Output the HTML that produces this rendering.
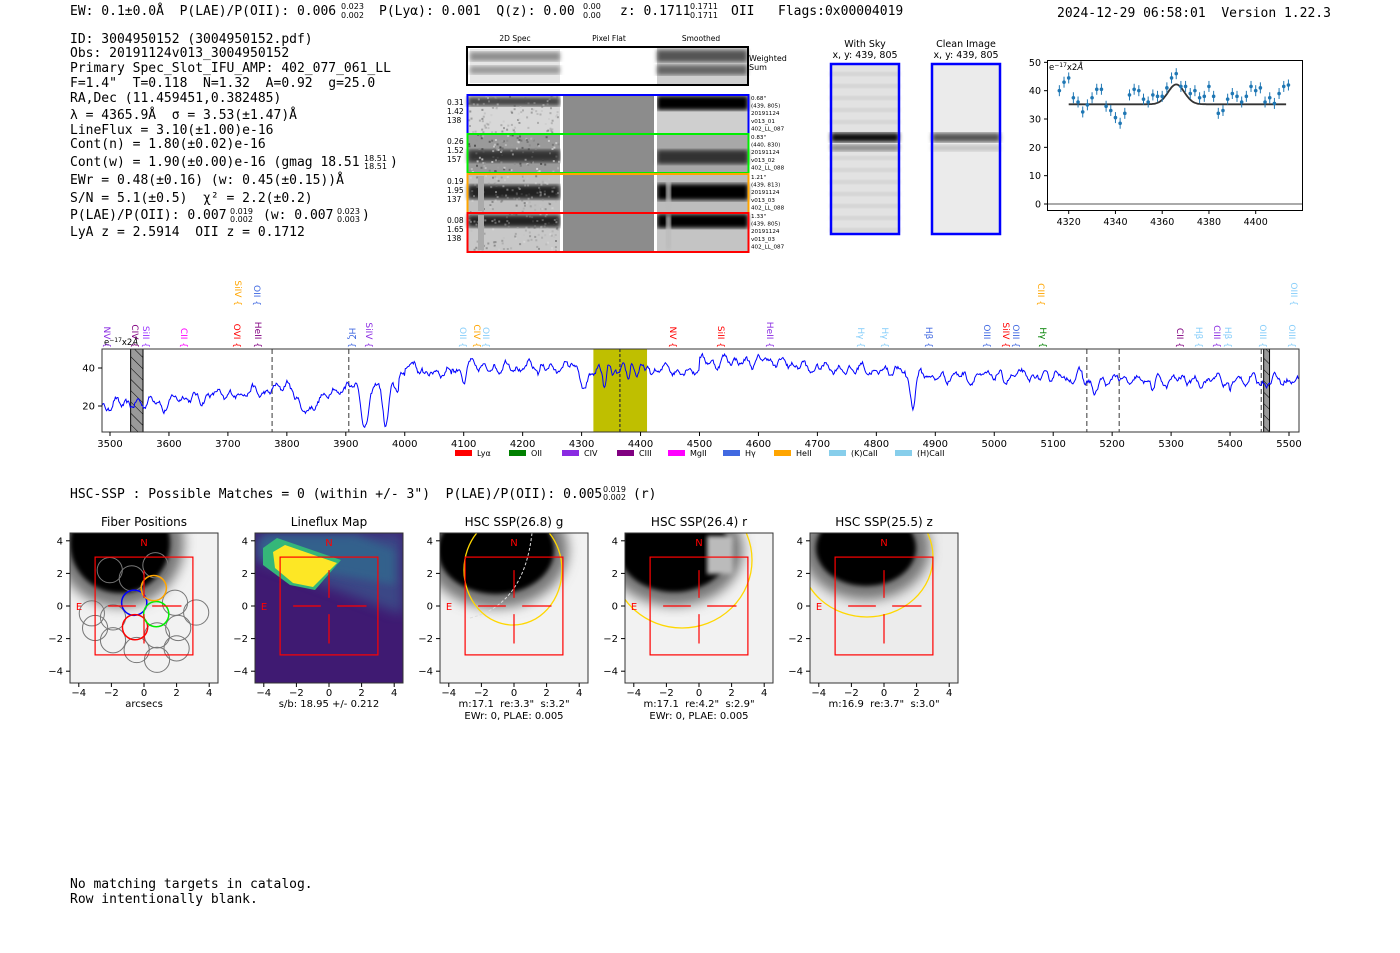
<!DOCTYPE html>
<html><head><meta charset="utf-8">
<style>
html,body{margin:0;padding:0;background:#fff;}
svg{display:block;}
text{white-space:pre;}
.m{font-family:"DejaVu Sans Mono","Liberation Mono",monospace;font-size:13px;fill:#000;}
.s{font-family:"DejaVu Sans","Liberation Sans",sans-serif;fill:#000;}
</style></head>
<body>
<svg id="root" width="1400" height="953" viewBox="0 0 1400 953" xmlns="http://www.w3.org/2000/svg" xml:space="preserve">
<defs>
<filter id="bl2"><feGaussianBlur stdDeviation="2"/></filter>
<filter id="bl4"><feGaussianBlur stdDeviation="4"/></filter>
<filter id="bl6"><feGaussianBlur stdDeviation="6"/></filter>
<filter id="noise" x="0" y="0" width="100%" height="100%"><feTurbulence type="fractalNoise" baseFrequency="0.9" numOctaves="1" seed="3"/><feColorMatrix type="saturate" values="0"/><feComponentTransfer><feFuncA type="linear" slope="0" intercept="0.35"/></feComponentTransfer></filter>
<pattern id="hatch" width="8" height="8" patternUnits="userSpaceOnUse" patternTransform="rotate(-45)"><rect width="8" height="8" fill="#9a9a9a"/><line x1="0" y1="0" x2="0" y2="8" stroke="#000" stroke-width="1"/></pattern>
<clipPath id="c0"><rect x="70" y="533" width="148" height="150"/></clipPath>
<clipPath id="c1"><rect x="255" y="533" width="148" height="150"/></clipPath>
<clipPath id="c2"><rect x="440" y="533" width="148" height="150"/></clipPath>
<clipPath id="c3"><rect x="625" y="533" width="148" height="150"/></clipPath>
<clipPath id="c4"><rect x="810" y="533" width="148" height="150"/></clipPath>
</defs>

<text class="m" x="70" y="15">EW: 0.1±0.0Å  P(LAE)/P(OII): 0.006</text>
<text class="s" x="341" y="9" font-size="8">0.023</text><text class="s" x="341" y="18" font-size="8">0.002</text>
<text class="m" x="379" y="15">P(Lyα): 0.001  Q(z): 0.00</text>
<text class="s" x="583" y="9" font-size="8">0.00</text><text class="s" x="583" y="18" font-size="8">0.00</text>
<text class="m" x="620" y="15">z: 0.1711</text>
<text class="s" x="690" y="9" font-size="8">0.1711</text><text class="s" x="690" y="18" font-size="8">0.1711</text>
<text class="m" x="731" y="15">OII</text>
<text class="m" x="778" y="15">Flags:0x00004019</text>
<text class="m" x="1057" y="17">2024-12-29 06:58:01  Version 1.22.3</text>

<g class="m">
<text x="70" y="43">ID: 3004950152 (3004950152.pdf)</text>
<text x="70" y="57">Obs: 20191124v013_3004950152</text>
<text x="70" y="72">Primary Spec_Slot_IFU_AMP: 402_077_061_LL</text>
<text x="70" y="87">F=1.4"  T=0.118  N=1.32  A=0.92  g=25.0</text>
<text x="70" y="102">RA,Dec (11.459451,0.382485)</text>
<text x="70" y="119">λ = 4365.9Å  σ = 3.53(±1.47)Å</text>
<text x="70" y="134">LineFlux = 3.10(±1.00)e-16</text>
<text x="70" y="148">Cont(n) = 1.80(±0.02)e-16</text>
<text x="70" y="166">Cont(w) = 1.90(±0.00)e-16 (gmag 18.51</text>
<text x="70" y="184">EWr = 0.48(±0.16) (w: 0.45(±0.15))Å</text>
<text x="70" y="202">S/N = 5.1(±0.5)  χ² = 2.2(±0.2)</text>
<text x="70" y="219">P(LAE)/P(OII): 0.007</text>
<text x="70" y="236">LyA z = 2.5914  OII z = 0.1712</text>
</g>
<text class="s" x="364" y="161" font-size="8">18.51</text><text class="s" x="364" y="169" font-size="8">18.51</text><text class="m" x="390" y="166">)</text>
<text class="s" x="230" y="214" font-size="8">0.019</text><text class="s" x="230" y="222" font-size="8">0.002</text>
<text class="m" x="263" y="219">(w: 0.007</text>
<text class="s" x="337" y="214" font-size="8">0.023</text><text class="s" x="337" y="222" font-size="8">0.003</text><text class="m" x="362" y="219">)</text>

<g class="s" font-size="7.5" text-anchor="middle">
<text x="515" y="41">2D Spec</text><text x="609" y="41">Pixel Flat</text><text x="701" y="41">Smoothed</text>
</g>
<g id="spec2d"></g>

<g class="s" font-size="9.5" text-anchor="middle">
<text x="865" y="47">With Sky</text><text x="865" y="58">x, y: 439, 805</text>
<text x="966" y="47">Clean Image</text><text x="966" y="58">x, y: 439, 805</text>
</g>
<g id="sky"></g>
<g id="small"></g>
<g id="big"></g>

<text class="m" x="70" y="498">HSC-SSP : Possible Matches = 0 (within +/- 3")  P(LAE)/P(OII): 0.005</text>
<text class="s" x="603" y="492" font-size="8">0.019</text><text class="s" x="603" y="500" font-size="8">0.002</text><text class="m" x="633" y="498">(r)</text>
<g id="panels"></g>

<text class="m" x="70" y="888">No matching targets in catalog.</text>
<text class="m" x="70" y="903">Row intentionally blank.</text>
</svg>

<script>
function R(seed){let s=seed;return function(){s=(s*16807)%2147483647;return (s-1)/2147483646;};}
function add(id,html){document.getElementById(id).insertAdjacentHTML('beforeend',html);}

(function(){
 let h='';
 h+=`<rect x="467" y="47" width="281" height="38" fill="#fff"/>`;
 h+=`<rect x="470" y="49" width="90" height="34" fill="#e6e6e6"/>`;
 h+=`<rect x="470" y="52" width="90" height="9" fill="#8f8f8f" filter="url(#bl2)"/>`;
 h+=`<rect x="470" y="66" width="90" height="8" fill="#9a9a9a" filter="url(#bl2)"/>`;
 h+=`<rect x="657" y="48" width="90" height="36" fill="#cfcfcf"/>`;
 h+=`<rect x="657" y="50" width="90" height="12" fill="#555" filter="url(#bl2)"/>`;
 h+=`<rect x="657" y="65" width="90" height="10" fill="#666" filter="url(#bl2)"/>`;
 h+=`<rect x="467" y="47" width="281" height="38" fill="none" stroke="#000" stroke-width="2"/>`;
 h+=`<text class="s" x="749" y="61" font-size="8">Weighted</text><text class="s" x="749" y="70" font-size="8">Sum</text>`;
 const rows=[
  {y:95,c:'#0000ff',n:['0.31','1.42','138'],t:['0.68"','(439, 805)','20191124','v013_01','402_LL_087'],band:[97,9,'#444'],sb:[96,14,'#050505'],bg:'#d8d8d8',sbg:'#cfcfcf'},
  {y:134,c:'#00ee00',n:['0.26','1.52','157'],t:['0.83"','(440, 830)','20191124','v013_02','402_LL_088'],band:[150,12,'#333'],sb:[150,14,'#333'],bg:'#9a9a9a',sbg:'#a8a8a8'},
  {y:174,c:'#ffa500',n:['0.19','1.95','137'],t:['1.21"','(439, 813)','20191124','v013_03','402_LL_088'],band:[185,14,'#222'],sb:[184,16,'#000'],bg:'#c0c0c0',sbg:'#bdbdbd'},
  {y:213,c:'#ff0000',n:['0.08','1.65','138'],t:['1.33"','(439, 805)','20191124','v013_03','402_LL_087'],band:[215,12,'#222'],sb:[214,14,'#000'],bg:'#c8c8c8',sbg:'#c4c4c4'}];
 const rnd=R(777);
 rows.forEach((r,i)=>{
  const y=r.y,H=39;
  h+=`<rect x="468" y="${y}" width="92" height="${H}" fill="${r.bg}"/>`;
  h+=`<rect x="468" y="${r.band[0]}" width="92" height="${r.band[1]}" fill="${r.band[2]}" filter="url(#bl2)"/>`;
  // speckle noise
  for(let k=0;k<120;k++){const px=468+rnd()*90,py=y+rnd()*(H-2),g=Math.floor(60+rnd()*170);h+=`<rect x="${px.toFixed(1)}" y="${py.toFixed(1)}" width="2" height="2" fill="rgb(${g},${g},${g})" opacity="${i==1?0.8:0.45}"/>`;}
  h+=`<rect x="563" y="${y}" width="91" height="${H}" fill="#8c8c8c"/>`;
  h+=`<rect x="657" y="${y}" width="91" height="${H}" fill="${r.sbg}"/>`;
  h+=`<rect x="657" y="${r.sb[0]}" width="91" height="${r.sb[1]}" fill="${r.sb[2]}" filter="url(#bl2)"/>`;
  if(i>=2){h+=`<rect x="478" y="${y+2}" width="6" height="${H-4}" fill="#aaa"/><rect x="666" y="${y+2}" width="5" height="${H-4}" fill="#bbb" filter="url(#bl2)"/>`;}
  h+=`<rect x="561" y="${y}" width="2" height="${H}" fill="#fff"/><rect x="654" y="${y}" width="3" height="${H}" fill="#fff"/>`;
  h+=`<rect x="467.5" y="${y}" width="281" height="${H}" fill="none" stroke="${r.c}" stroke-width="2"/>`;
  r.n.forEach((s,k)=>h+=`<text class="s" x="447" y="${y+10+k*9}" font-size="7.5">${s}</text>`);
  r.t.forEach((s,k)=>h+=`<text class="s" x="751" y="${y+5+k*7.6}" font-size="5.6">${s}</text>`);
 });
 add('spec2d',h);
})();

(function(){
 let h='';
 [[831,true],[932,false]].forEach(([x,sky])=>{
  h+=`<rect x="${x}" y="64" width="68" height="170" fill="${sky?'#e2e2e2':'#ebebeb'}"/>`;
  if(sky){for(let y=72;y<230;y+=12)h+=`<rect x="${x}" y="${y}" width="68" height="4" fill="#cfcfcf" filter="url(#bl2)"/>`;}
  h+=`<rect x="${x}" y="133" width="68" height="9" fill="${sky?'#080808':'#555'}" filter="url(#bl2)"/>`;
  h+=`<rect x="${x}" y="145" width="68" height="6" fill="${sky?'#888':'#c3c3c3'}" filter="url(#bl2)"/>`;
  h+=`<rect x="${x}" y="64" width="68" height="170" fill="none" stroke="#0000ff" stroke-width="2.5"/>`;
 });
 add('sky',h);
})();

(function(){
 const X=l=>1068.7+(l-4320)*2.3375, Y=v=>204-v*2.833;
 let h=`<rect x="1047.5" y="60.5" width="255" height="150" fill="#fff" stroke="#000" stroke-width="1"/>`;
 h+=`<line x1="1048" y1="${Y(0)}" x2="1302" y2="${Y(0)}" stroke="#555" stroke-width="1"/>`;
 [0,10,20,30,40,50].forEach(v=>{h+=`<line x1="1044" y1="${Y(v)}" x2="1047.5" y2="${Y(v)}" stroke="#000"/><text class="s" x="1041" y="${Y(v)+3.5}" font-size="9.5" text-anchor="end">${v}</text>`;});
 [4320,4340,4360,4380,4400].forEach(l=>{h+=`<line x1="${X(l)}" y1="210.5" x2="${X(l)}" y2="214" stroke="#000"/><text class="s" x="${X(l)}" y="225" font-size="9.5" text-anchor="middle">${l}</text>`;});
 const v=[40,43,44.5,37.5,36,32.5,35,37.5,40.5,40.5,34.5,33,30.5,28.5,32,38.5,40.5,40,37,36,38.5,38,38,41,44.5,46,41.5,41.5,39,40,37.5,38,41.5,38,32,33,37,39,38,36,38,41.5,40,41,36,37.5,35.5,39,41.5,42];
 let p='';
 for(let l=4320;l<=4413;l+=0.5){const f=35.2+7*Math.exp(-((l-4366)**2)/(2*3.5*3.5));p+=(p?'L':'M')+X(l).toFixed(1)+','+Y(f).toFixed(1);}
 h+=`<path d="${p}" fill="none" stroke="#333" stroke-width="1.8"/>`;
 v.forEach((val,i)=>{const x=X(4316+2*i),y=Y(val);h+=`<line x1="${x}" y1="${y-5.5}" x2="${x}" y2="${y+5.5}" stroke="#1f77b4" stroke-width="1"/><circle cx="${x}" cy="${y}" r="1.8" fill="#1f77b4"/>`;});
 h+=`<text class="s" x="1049" y="70" font-size="8.5">e<tspan font-size="6" dy="-3">−17</tspan><tspan dy="3">x2</tspan><tspan font-style="italic">Å</tspan></text>`;
 add('small',h);
})();

(function(){
 const X=l=>110+(l-3500)*0.5895, Y=v=>406-(v-20)*1.9;
 let h=`<rect x="102" y="349" width="1197" height="83" fill="#fff"/>`;
 h+=`<rect x="${X(4320)}" y="349" width="${X(4411)-X(4320)}" height="83" fill="#bfbf00"/>`;
 h+=`<rect x="${X(3535)}" y="349" width="${X(3556)-X(3535)}" height="83" fill="url(#hatch)" stroke="#000" stroke-width="1"/>`;
 h+=`<rect x="${X(5457)}" y="349" width="${X(5467)-X(5457)}" height="83" fill="url(#hatch)" stroke="#000" stroke-width="1"/>`;
 [3775,3905,5157,5212,5453].forEach(l=>h+=`<line x1="${X(l)}" y1="349" x2="${X(l)}" y2="432" stroke="#666" stroke-width="1.3" stroke-dasharray="5,3"/>`);
 h+=`<line x1="${X(4365)}" y1="349" x2="${X(4365)}" y2="432" stroke="#333" stroke-width="1.2" stroke-dasharray="3,2"/>`;
 const base=l=>{
  if(l<3770) return 20+ (l-3490)/280*8;
  if(l<3900) return 28-9*Math.exp(-((l-3835)**2)/(2*15*15));
  if(l<3990) return 31;
  if(l<4000) return 36;
  if(l<4300) return 40.5 + (l>4030&&l<4080?-3:0);
  if(l<4500) return 39;
  if(l<4650) return 43.5;
  if(l<4850) return 41-(l-4650)/200*3;
  if(l<5150) return 35.5;
  return 33.5;
 };
 const dips=[[3934,22,6],[3968,20,5],[4101,8,3],[4305,12,5],[4340,10,3],[4862,13,4],[5170,8,4],[5268,6,3],[5400,5,2],[3843,4,6],[3800,-4,8],[3590,5,3],[4227,4,2],[4380,5,2]];
 const rnd=R(12345);let ph=[];for(let k=0;k<6;k++)ph.push(rnd()*6.28);
 let p='';let nz=0;
 for(let l=3485;l<=5518;l+=1.5){
  let v=base(l);
  dips.forEach(([c,a,s])=>v-=a*Math.exp(-((l-c)**2)/(2*s*s)));
  nz=0.6*nz+0.4*(rnd()-0.5)*6;
  v+=1.6*Math.sin(l/3.1+ph[0])+1.2*Math.sin(l/5.3+ph[1])+1.0*Math.sin(l/8.7+ph[2])+nz;
  if(l>=4320&&l<4420) v+=1.5*Math.sin(l/2.2);
  const x=X(l); if(x<102||x>1299) continue;
  p+=(p?'L':'M')+x.toFixed(1)+','+Y(v).toFixed(1);
 }
 h+=`<path d="${p}" fill="none" stroke="#0000ff" stroke-width="1"/>`;
 h+=`<rect x="102" y="349" width="1197" height="83" fill="none" stroke="#333" stroke-width="1"/>`;
 [20,40].forEach(v=>h+=`<line x1="98" y1="${Y(v)}" x2="102" y2="${Y(v)}" stroke="#000"/><text class="s" x="95" y="${Y(v)+3.5}" font-size="10" text-anchor="end">${v}</text>`);
 for(let l=3500;l<=5500;l+=100)h+=`<line x1="${X(l)}" y1="432" x2="${X(l)}" y2="436" stroke="#000"/><text class="s" x="${X(l)}" y="447" font-size="10" text-anchor="middle">${l}</text>`;
 h+=`<text class="s" x="104" y="345" font-size="8.5">e<tspan font-size="6" dy="-3">−17</tspan><tspan dy="3">x2</tspan><tspan font-style="italic">Å</tspan></text>`;
 const L=[[107,'NV','#8a2be2'],[135,'CIV','#800080'],[146,'SiII','#9933ff'],[184,'CII','#ff00ff'],[237,'OVI','#ff0000'],[258,'HeII','#800080'],[238,'SiIV','#ffa500',1],[257,'OII','#4169e1',1],
 [352,'Hζ','#4169e1'],[369,'SiIV','#8a2be2'],[463,'OII','#87cefa'],[477,'CIV','#ffa500'],[486,'OII','#87cefa'],[673,'NV','#ff0000'],[721,'SiII','#ff0000'],[770,'HeII','#8a2be2'],
 [861,'Hγ','#87cefa'],[885,'Hγ','#87cefa'],[929,'Hβ','#4169e1'],[987,'OIII','#4169e1'],[1006,'SiIV','#ff0000'],[1016,'OIII','#4169e1'],[1043,'Hγ','#008000'],[1041,'CIII','#ffa500',1],
 [1180,'CII','#800080'],[1199,'Hβ','#87cefa'],[1217,'CIII','#8a2be2'],[1228,'Hβ','#87cefa'],[1263,'OIII','#87cefa'],[1292,'OIII','#87cefa'],[1294,'OIII','#87cefa',1]];
 L.forEach(([x,t,c,u])=>{const y=u?306:348;h+=`<text class="s" font-size="9" fill="${c}" style="fill:${c}" text-anchor="end" transform="translate(${x-3},${y}) rotate(90)">${t} {</text>`;});
 const G=[['Lyα','#ff0000',455],['OII','#008000',509],['CIV','#8a2be2',562],['CIII','#800080',617],['MgII','#ff00ff',668],['Hγ','#4169e1',723],['HeII','#ffa500',774],['(K)CaII','#87ceeb',829],['(H)CaII','#87ceeb',895]];
 G.forEach(([t,c,x])=>h+=`<rect x="${x}" y="450" width="17" height="6" fill="${c}"/><text class="s" x="${x+22}" y="456" font-size="8">${t}</text>`);
 add('big',h);
})();

(function(){
 let h='';
 const titles=['Fiber Positions','Lineflux Map','HSC SSP(26.8) g','HSC SSP(26.4) r','HSC SSP(25.5) z'];
 const sub=[['arcsecs'],['s/b: 18.95 +/- 0.212'],['m:17.1  re:3.3"  s:3.2"','EWr: 0, PLAE: 0.005'],['m:17.1  re:4.2"  s:2.9"','EWr: 0, PLAE: 0.005'],['m:16.9  re:3.7"  s:3.0"']];
 for(let i=0;i<5;i++){
  const x0=70+185*i, cx=144+185*i, cy=606, s=16.3;
  const D=(a,b)=>[cx+a*s,cy-b*s];
  h+=`<g clip-path="url(#c${i})">`;
  if(i==1){
   h+=`<rect x="${x0}" y="533" width="148" height="150" fill="#3f1a72"/>`;
   h+=`<polygon points="${x0},533 ${x0+148},533 ${x0+148},615 ${x0},560" fill="#3b528b" opacity="0.8" filter="url(#bl6)"/>`;
   h+=`<polygon points="${x0+5},541 ${x0+12},535 ${x0+100},535 ${x0+140},550 ${x0+140},585 ${x0+5},560" fill="#31688e" opacity="0.8" filter="url(#bl4)"/>`;
   h+=`<polygon points="${x0+8},548 ${x0+22},538 ${x0+86},560 ${x0+60},590 ${x0+35},585 ${x0+8},565" fill="#35b779"/>`;
   h+=`<polygon points="${x0+18},552 ${x0+30},545 ${x0+82},563 ${x0+72},573 ${x0+58},587 ${x0+38},583 ${x0+20},568" fill="#fde725"/>`;
  } else {
   const bg=i==4?'#ececec':'#f2f2f2';
   h+=`<rect x="${x0}" y="533" width="148" height="150" fill="${bg}"/>`;
   let e;
   if(i==0) e=[cx-24,543,50,50];
   else if(i==2) e=[cx-18,550,58,44];
   else if(i==3) e=[cx-25,550,55,42];
   else e=[cx-18,548,50,38];
   h+=`<ellipse cx="${e[0]}" cy="${e[1]}" rx="${e[2]+14}" ry="${e[3]+14}" fill="#777" filter="url(#bl6)"/>`;
   h+=`<ellipse cx="${e[0]}" cy="${e[1]}" rx="${e[2]}" ry="${e[3]}" fill="#000" filter="url(#bl2)"/>`;
   if(i==3)h+=`<rect x="${cx+8}" y="536" width="26" height="38" fill="#bbb" filter="url(#bl2)"/>`;
   if(i==0){
    const fib=[[-2.1,2.2],[-0.75,1.7],[0.7,2.5],[-3.2,-0.45],[-3,-1.35],[-1.9,-0.7],[-1.9,-2.1],[-0.45,-2.7],[0.8,-3.3],[2,-2.6],[2.1,-1.35],[1.9,0.2],[3.2,-0.4],[0.8,-1.8]];
    fib.forEach(([a,b])=>{const [px,py]=D(a,b);h+=`<circle cx="${px}" cy="${py}" r="12.6" fill="none" stroke="#777" stroke-width="1"/>`;});
    [[-0.6,0.2,'#0000ff'],[-0.55,-1.3,'#ff0000'],[0.75,-0.5,'#00ee00'],[0.6,1.1,'#ffa500']].forEach(([a,b,c])=>{const [px,py]=D(a,b);h+=`<circle cx="${px}" cy="${py}" r="12.6" fill="none" stroke="${c}" stroke-width="1.5"/>`;});
   }
   if(i==2){h+=`<ellipse cx="${cx-1}" cy="570" rx="49" ry="55" fill="none" stroke="#ffd700" stroke-width="1.3"/>`;
     h+=`<path d="M ${cx+18} 533 Q ${cx+10} 605 ${cx-44} 618" fill="none" stroke="#ddd" stroke-width="1" stroke-dasharray="3,2"/>`;}
   if(i==3)h+=`<ellipse cx="${cx-17}" cy="560" rx="70" ry="68" fill="none" stroke="#ffd700" stroke-width="1.3"/>`;
   if(i==4)h+=`<ellipse cx="${cx-17}" cy="557" rx="66" ry="60" fill="none" stroke="#ffd700" stroke-width="1.3"/>`;
  }
  h+=`</g>`;
  const [bx,by]=D(-3,3);
  h+=`<rect x="${bx}" y="${by}" width="${6*s}" height="${6*s}" fill="none" stroke="#ff0000" stroke-width="1.2"/>`;
  h+=`<g stroke="#ff0000" stroke-width="1.2"><line x1="${cx-2.2*s}" y1="${cy}" x2="${cx-0.5*s}" y2="${cy}"/><line x1="${cx+0.5*s}" y1="${cy}" x2="${cx+2.3*s}" y2="${cy}"/><line x1="${cx}" y1="${cy-2.2*s}" x2="${cx}" y2="${cy-0.5*s}"/><line x1="${cx}" y1="${cy+0.5*s}" x2="${cx}" y2="${cy+2.3*s}"/></g>`;
  h+=`<text class="s" x="${cx}" y="546" font-size="10" text-anchor="middle" style="fill:#ff0000">N</text>`;
  h+=`<text class="s" x="${cx-65}" y="610" font-size="10" text-anchor="middle" style="fill:#ff0000">E</text>`;
  h+=`<rect x="${x0}" y="533" width="148" height="150" fill="none" stroke="#333" stroke-width="1"/>`;
  [-4,-2,0,2,4].forEach(v=>{
   const tx=cx+v*s, ty=cy-v*s;
   h+=`<line x1="${tx}" y1="683" x2="${tx}" y2="687" stroke="#000"/><text class="s" x="${tx}" y="696" font-size="10" text-anchor="middle">${v<0?'−'+(-v):v}</text>`;
   h+=`<line x1="${x0-4}" y1="${ty}" x2="${x0}" y2="${ty}" stroke="#000"/><text class="s" x="${x0-7}" y="${ty+3.5}" font-size="10" text-anchor="end">${v<0?'−'+(-v):v}</text>`;
  });
  h+=`<text class="s" x="${cx}" y="526" font-size="12" text-anchor="middle">${titles[i]}</text>`;
  sub[i].forEach((t,k)=>h+=`<text class="s" x="${cx}" y="${707+k*12}" font-size="10" text-anchor="middle">${t}</text>`);
 }
 add('panels',h);
})();
</script>
</body></html>
